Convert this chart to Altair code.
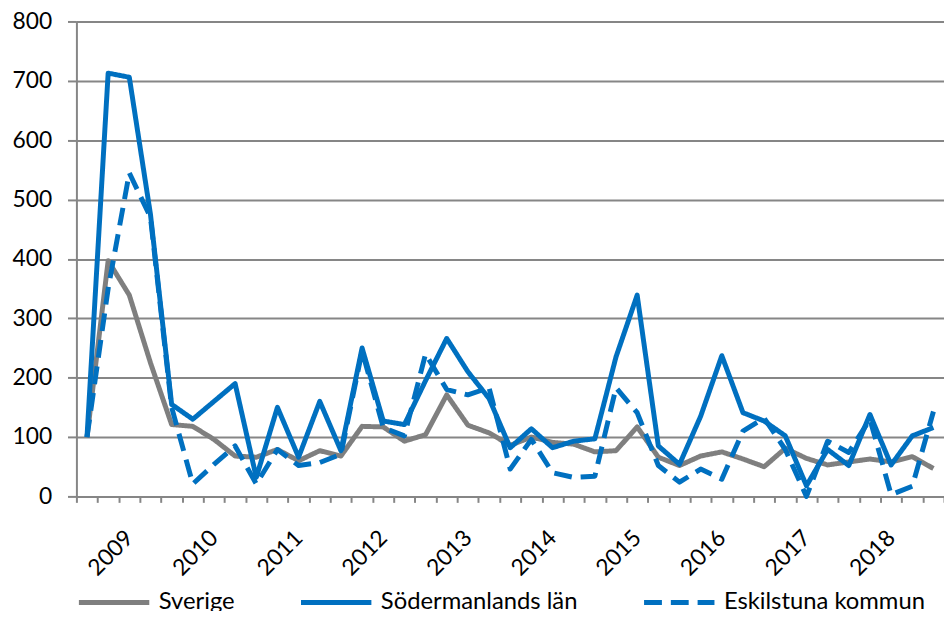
import altair as alt
import pandas as pd

periods = [
    "2008Q3", "2008Q4",
    "2009Q1", "2009Q2", "2009Q3", "2009Q4",
    "2010Q1", "2010Q2", "2010Q3", "2010Q4",
    "2011Q1", "2011Q2", "2011Q3", "2011Q4",
    "2012Q1", "2012Q2", "2012Q3", "2012Q4",
    "2013Q1", "2013Q2", "2013Q3", "2013Q4",
    "2014Q1", "2014Q2", "2014Q3", "2014Q4",
    "2015Q1", "2015Q2", "2015Q3", "2015Q4",
    "2016Q1", "2016Q2", "2016Q3", "2016Q4",
    "2017Q1", "2017Q2", "2017Q3", "2017Q4",
    "2018Q1", "2018Q2", "2018Q3",
]

sverige = [100, 397, 339, 225, 121, 118, 96, 68, 66, 79, 60, 77, 68, 118, 117, 93,
           104, 171, 120, 107, 86, 100, 91, 88, 75, 77, 117, 66, 52, 68, 75, 63,
           50, 81, 64, 53, 58, 63, 58, 67, 47]
sodermanland = [100, 713, 706, 475, 155, 130, 160, 190, 32, 150, 66, 160, 77, 250, 127, 121,
                195, 266, 210, 165, 82, 114, 82, 93, 97, 235, 339, 85, 54, 135, 237, 141,
                127, 102, 18, 79, 52, 138, 53, 102, 116]
eskilstuna = [100, 350, 545, 470, 150, 21, 54, 85, 21, 79, 52, 57, 71, 245, 116, 102,
              240, 180, 171, 183, 46, 96, 40, 32, 34, 183, 141, 52, 24, 46, 29, 110,
              132, 79, 0, 93, 74, 130, 3, 17, 143]

series_names = ["Sverige", "Södermanlands län", "Eskilstuna kommun"]
series_values = [sverige, sodermanland, eskilstuna]
y_ticks = [0, 100, 200, 300, 400, 500, 600, 700, 800]

GRAY = "#7f7f7f"
BLUE = "#0070c0"
AXIS = "#868686"
FONT = "Lato"

rows = []
for name, vals in zip(series_names, series_values):
    for p, v in zip(periods, vals):
        rows.append({"period": p, "serie": name, "value": v})
df = pd.DataFrame(rows)

legend = alt.Legend(
    title=None, orient="none", legendX=0, legendY=548, direction="horizontal",
    symbolType="stroke", symbolSize=5041, symbolStrokeWidth=5,
    labelFontSize=24, labelFont=FONT, labelColor="black", labelOffset=7,
    labelLimit=400, columnPadding=56, padding=0,
)

label_expr = ("slice(datum.label + '', 4) == 'Q1' ? "
              "slice(datum.label + '', 0, 4) : ''")

chart = alt.Chart(df).mark_line(strokeWidth=5, strokeJoin="round").encode(
    x=alt.X(
        "period:O", sort=periods,
        scale=alt.Scale(type="band", paddingInner=0, paddingOuter=0),
        axis=alt.Axis(
            title=None, tickBand="extent", grid=False,
            labelExpr=label_expr,
            labelAngle=-45, labelAlign="right", labelBaseline="middle",
            labelPadding=32, labelOffset=0, labelOverlap=False,
            labelFontSize=23, labelFont=FONT, labelColor="black",
            ticks=True, tickSize=6, tickColor=AXIS, tickWidth=2,
            domainColor=AXIS, domainWidth=2,
        ),
    ),
    y=alt.Y(
        "value:Q", scale=alt.Scale(domain=[0, 800], nice=False),
        axis=alt.Axis(
            title=None, values=y_ticks, grid=True, gridColor=AXIS, gridWidth=2,
            domainColor=AXIS, domainWidth=2, ticks=True, tickSize=9,
            tickColor=AXIS, tickWidth=2, labelPadding=16,
            labelFontSize=23, labelFont=FONT, labelColor="black",
        ),
    ),
    color=alt.Color("serie:N", scale=alt.Scale(domain=series_names, range=[GRAY, BLUE, BLUE]),
                    legend=legend),
    strokeDash=alt.StrokeDash("serie:N",
                              scale=alt.Scale(domain=series_names,
                                              range=[[1, 0], [1, 0], [18, 9]]),
                              legend=legend),
).properties(
    width=875, height=479,
    autosize=alt.AutoSizeParams(type="none"),
    padding={"left": 69, "top": 11, "right": 0, "bottom": 113},
).configure_view(strokeWidth=0)

chart.save("out.html", embed_options={"renderer": "svg", "actions": False})
